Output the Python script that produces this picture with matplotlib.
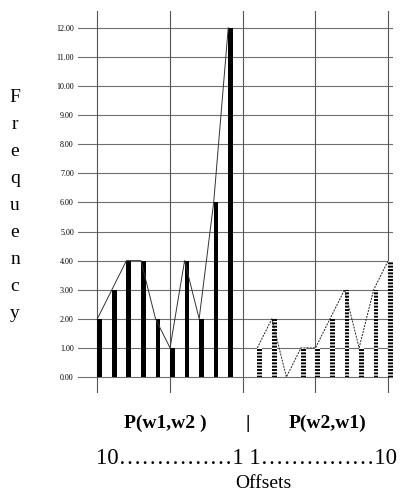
import matplotlib
matplotlib.use('Agg')
from matplotlib import pyplot as plt
import numpy as np

# data
left_vals = [2, 3, 4, 4, 2, 1, 4, 2, 6, 12]    # P(w1,w2), offsets 10..1
right_vals = [1, 2, 0, 1, 1, 2, 3, 1, 3, 4]    # P(w2,w1), offsets 1..10
y_ticks = np.arange(0, 13, 1)
ylabel = 'Frequency'
group_labels = ['P(w1,w2 )', '|', 'P(w2,w1)']
dots = '\u2026' * 5
offset_text = '10' + dots + '1 1' + dots + '10'

plt.rcParams['font.family'] = ['Liberation Serif', 'DejaVu Serif']

fig = plt.figure(figsize=(4.05, 5.01), dpi=100, facecolor='white')
ax = fig.add_axes([78 / 405, 108 / 501, 315 / 405, 382 / 501])

xl = np.arange(len(left_vals))
xr = np.arange(len(right_vals)) + len(left_vals) + 1

# grid
for y in y_ticks:
    ax.axhline(y, color='#6e6e6e', lw=0.8, zorder=0)
for x in range(0, 21, 5):
    ax.axvline(x, color='#555555', lw=0.8, zorder=0)

bw = 0.32
ax.bar(xl, left_vals, width=bw, align='edge', color='black', zorder=2)
ax.plot(xl, left_vals, color='#333333', lw=0.7, zorder=3)

ax.bar(xr, right_vals, width=bw, align='edge', color='black',
       edgecolor='white', hatch='-----', lw=0, zorder=2)
ax.plot(xr, right_vals, color='#222222', lw=0.7, ls=(0, (2, 1.2)), zorder=3)

ax.set_xlim(-1.33, 20.33)
ax.set_ylim(-0.55, 12.58)
for s in ax.spines.values():
    s.set_visible(False)
ax.set_xticks([])
ax.set_yticks(y_ticks)
ax.set_yticklabels(['%.2f' % v for v in y_ticks], fontsize=5.8)
ax.tick_params(axis='y', length=0, pad=3)

# stacked y label
for i, ch in enumerate(ylabel):
    fig.text(15 / 405, 1 - (97 + i * 27.1) / 501, ch, fontsize=14,
             ha='center', va='center')

# bottom labels
fig.text(165 / 405, 1 - 423 / 501, group_labels[0], fontsize=14,
         fontweight='bold', ha='center', va='center')
fig.text(248 / 405, 1 - 423 / 501, group_labels[1], fontsize=14,
         fontweight='bold', ha='center', va='center')
fig.text(328 / 405, 1 - 423 / 501, group_labels[2], fontsize=14,
         fontweight='bold', ha='center', va='center')
fig.text(246 / 405, 1 - 458 / 501, offset_text, fontsize=16.5,
         ha='center', va='center')
fig.text(263 / 405, 1 - 483 / 501, 'Offsets', fontsize=14,
         ha='center', va='center')

fig.savefig('out.png', dpi=100, facecolor='white')
